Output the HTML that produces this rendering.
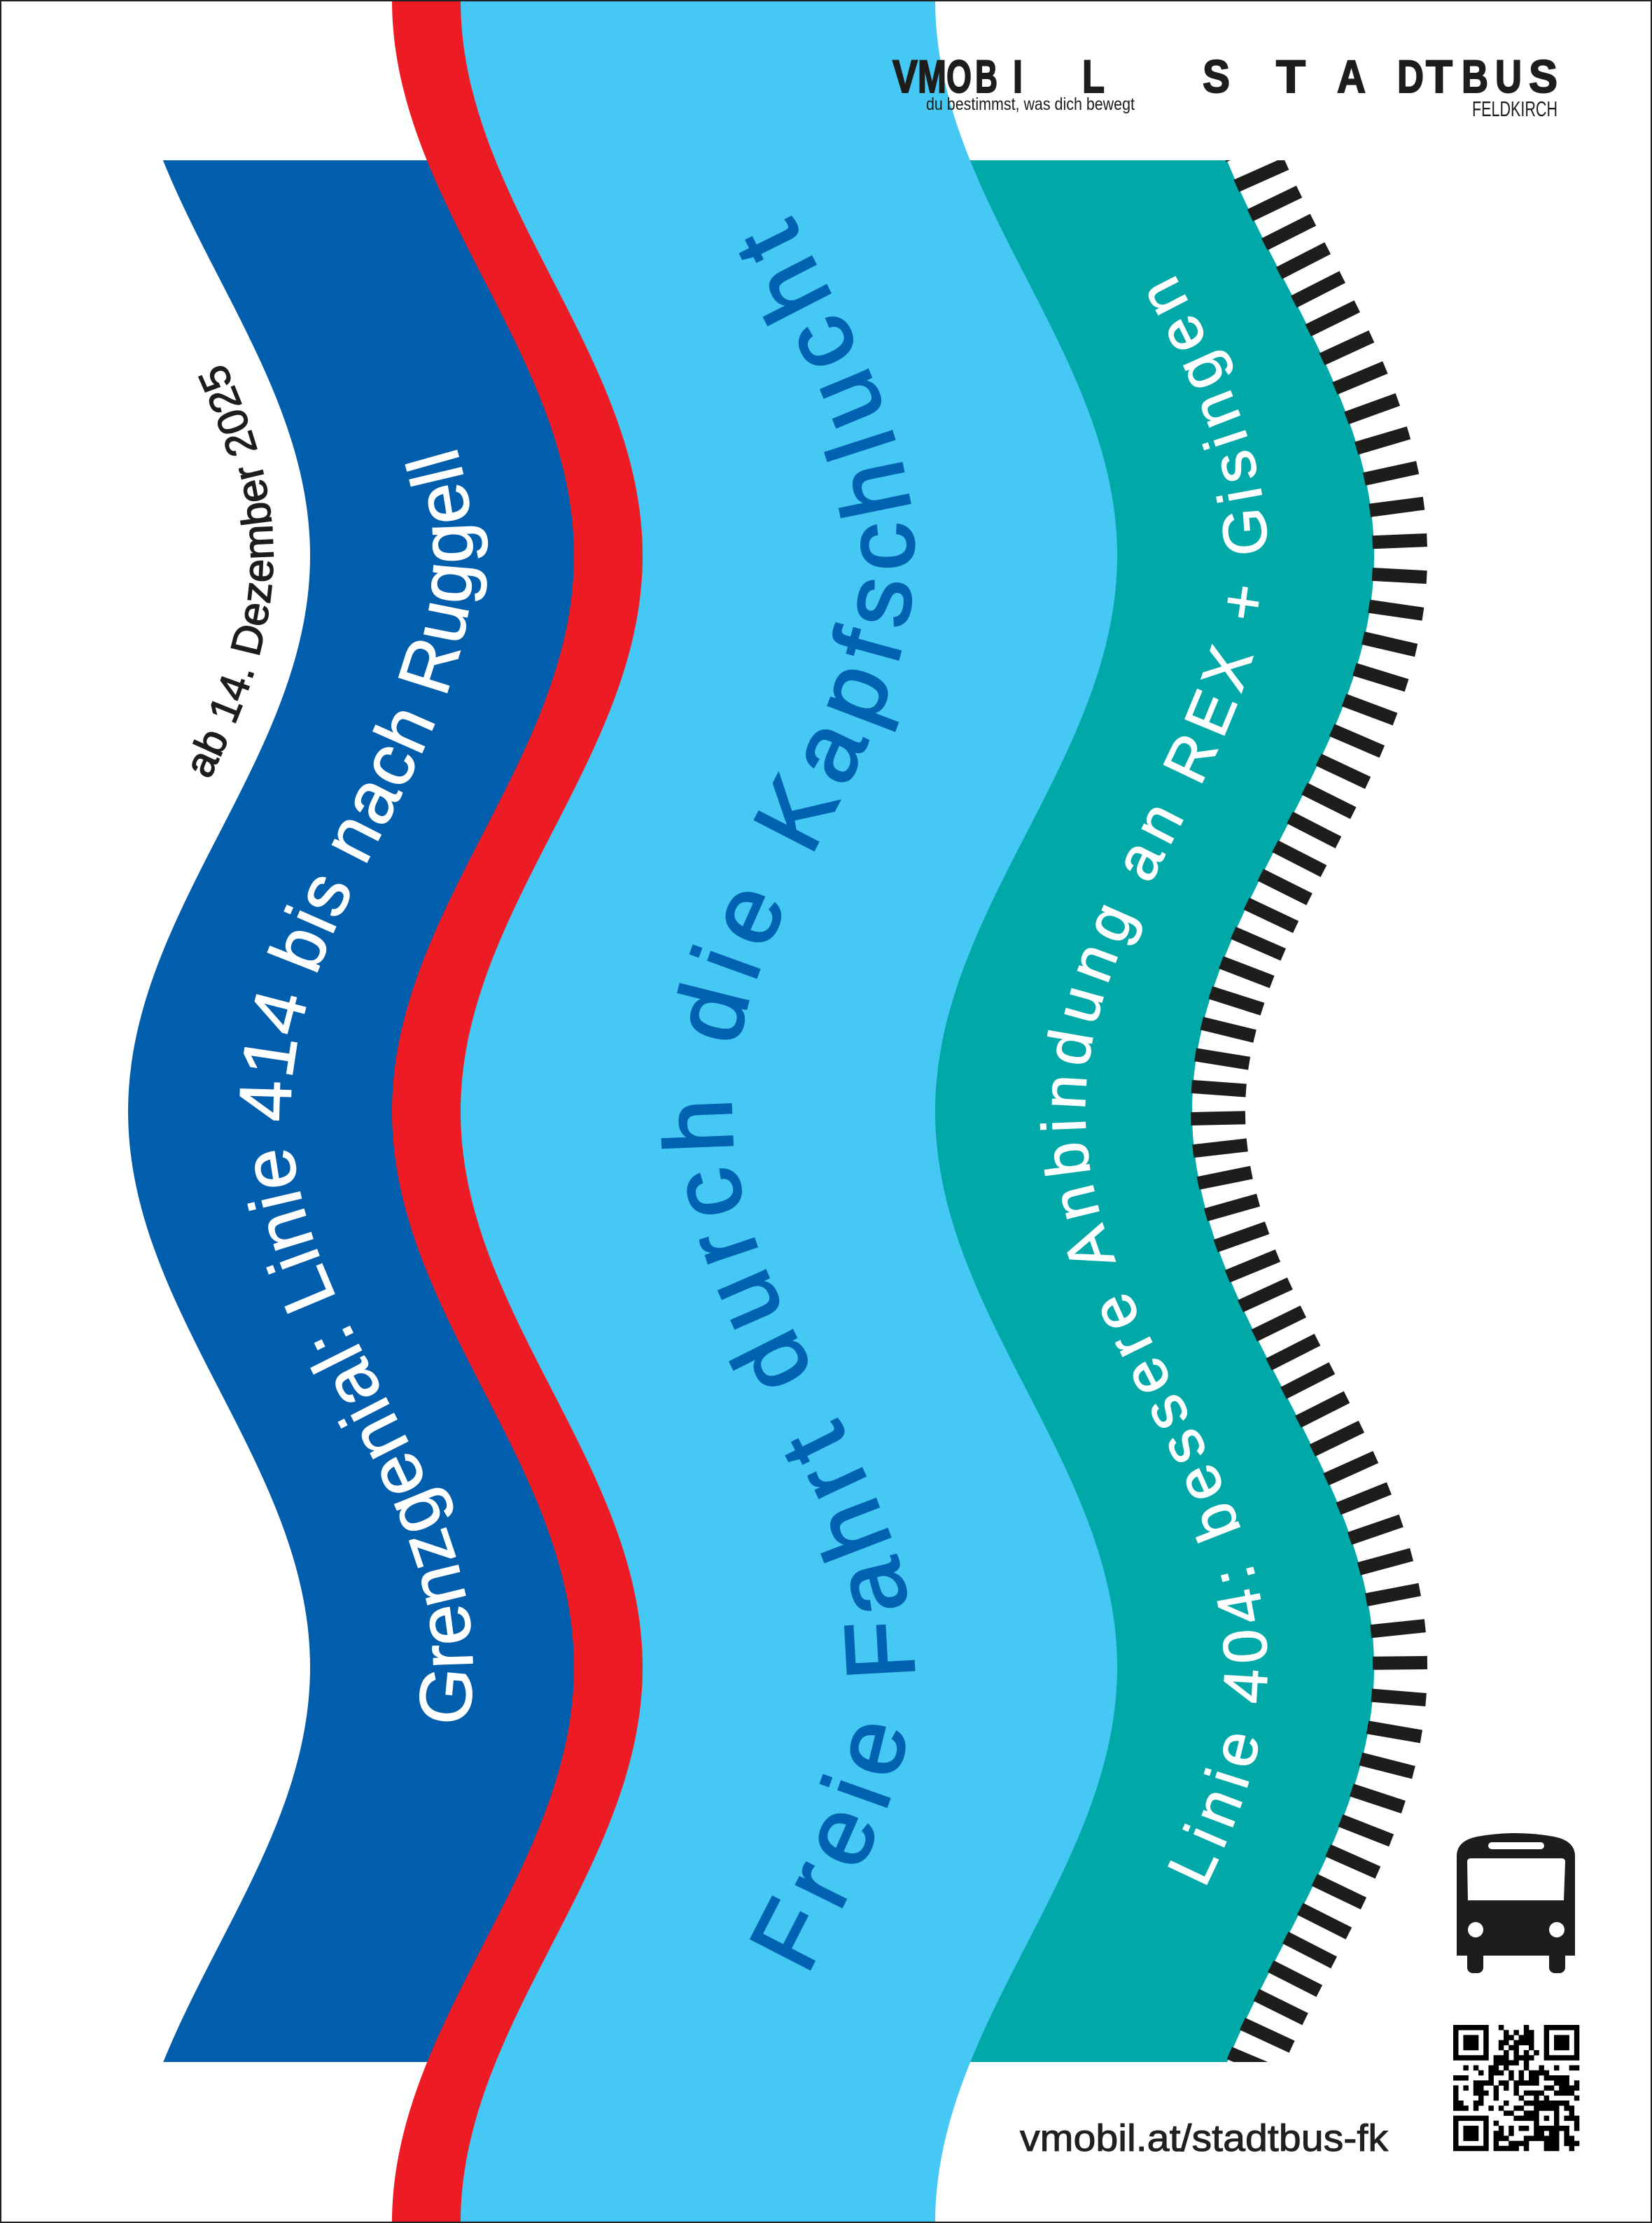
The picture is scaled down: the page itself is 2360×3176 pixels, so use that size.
<!DOCTYPE html>
<html><head><meta charset="utf-8">
<style>
html,body{margin:0;padding:0;background:#fff;}
svg{display:block;}
text{font-family:"Liberation Sans",sans-serif;}
</style></head>
<body>
<svg id="s" xmlns="http://www.w3.org/2000/svg" width="2360" height="3176" viewBox="0 0 2360 3176">
<defs>
<clipPath id="cy"><rect x="0" y="229" width="2360" height="2717"/></clipPath>
<path id="p1" d="M130,3176 C130,2887 390,2671 390,2382 C390,2093 130,1877 130,1588 C130,1299 390,1083 390,794 C390,505 130,289 130,0"/>
<path id="p2" d="M415,3176 C415,2887 675,2671 675,2382 C675,2093 415,1877 415,1588 C415,1299 675,1083 675,794 C675,505 415,289 415,0"/>
<path id="p3" d="M1045,3176 C1045,2887 1305,2671 1305,2382 C1305,2093 1045,1877 1045,1588 C1045,1299 1305,1083 1305,794 C1305,505 1045,289 1045,0"/>
<path id="p4" d="M1550,3176 C1550,2887 1810,2671 1810,2382 C1810,2093 1550,1877 1550,1588 C1550,1299 1810,1083 1810,794 C1810,505 1550,289 1550,0"/>
</defs>
<rect x="0" y="0" width="2360" height="3176" fill="#fff"/>
<g clip-path="url(#cy)"><path transform="translate(183,0)" fill="#005EAD" d="M0,0 C0,289 260,505 260,794 C260,1083 0,1299 0,1588 C0,1877 260,2093 260,2382 C260,2671 0,2887 0,3176 L390,3176 C390,2887 650,2671 650,2382 C650,2093 390,1877 390,1588 C390,1299 650,1083 650,794 C650,505 390,289 390,0 Z"/></g>
<path transform="translate(560,0)" fill="#ED1C24" d="M0,0 C0,289 260,505 260,794 C260,1083 0,1299 0,1588 C0,1877 260,2093 260,2382 C260,2671 0,2887 0,3176 L104,3176 C104,2887 364,2671 364,2382 C364,2093 104,1877 104,1588 C104,1299 364,1083 364,794 C364,505 104,289 104,0 Z"/>
<g clip-path="url(#cy)"><path transform="translate(1330,0)" fill="#00A9A8" d="M0,0 C0,289 260,505 260,794 C260,1083 0,1299 0,1588 C0,1877 260,2093 260,2382 C260,2671 0,2887 0,3176 L373,3176 C373,2887 633,2671 633,2382 C633,2093 373,1877 373,1588 C373,1299 633,1083 633,794 C633,505 373,289 373,0 Z"/></g>
<path transform="translate(658,0)" fill="#45C8F4" d="M0,0 C0,289 260,505 260,794 C260,1083 0,1299 0,1588 C0,1877 260,2093 260,2382 C260,2671 0,2887 0,3176 L678,3176 C678,2887 938,2671 938,2382 C938,2093 678,1877 678,1588 C678,1299 938,1083 938,794 C938,505 678,289 678,0 Z"/>
<g id="ticks" clip-path="url(#cy)" fill="#1d1d1b"></g>

<text font-size="60" fill="#1d1d1b" stroke="#1d1d1b" stroke-width="1.5"><textPath href="#p1" startOffset="2196" textLength="624" lengthAdjust="spacing">ab 14. Dezember 2025</textPath></text>
<text font-size="105" fill="#fff" stroke="#fff" stroke-width="1.5"><textPath href="#p2" startOffset="759" textLength="1933" lengthAdjust="spacing">Grenzgenial: Linie 414 bis nach Ruggell</textPath></text>
<text font-size="138" fill="#0062B0" stroke="#0062B0" stroke-width="3"><textPath href="#p3" startOffset="372" textLength="2681" lengthAdjust="spacing">Freie Fahrt durch die Kapfschlucht</textPath></text>
<text font-size="88" fill="#fff" stroke="#fff" stroke-width="1.5"><textPath href="#p4" startOffset="512" textLength="2450" lengthAdjust="spacing">Linie 404: bessere Anbindung an REX + Gisingen</textPath></text>

<g font-weight="bold" font-size="66" fill="#1d1d1b" stroke="#1d1d1b" stroke-width="2">
<text x="1275" y="132" textLength="36" lengthAdjust="spacingAndGlyphs">V</text>
<text x="1311" y="132" textLength="41" lengthAdjust="spacingAndGlyphs">M</text>
<text x="1352" y="132" textLength="36" lengthAdjust="spacingAndGlyphs">O</text>
<text x="1393" y="132" textLength="32" lengthAdjust="spacingAndGlyphs">B</text>
<text x="1447" y="132" textLength="14" lengthAdjust="spacingAndGlyphs">I</text>
<text x="1546" y="132" textLength="32" lengthAdjust="spacingAndGlyphs">L</text>
<text x="1718" y="132" textLength="39" lengthAdjust="spacingAndGlyphs">S</text>
<text x="1823" y="132" textLength="42" lengthAdjust="spacingAndGlyphs">T</text>
<text x="1910" y="132" textLength="41" lengthAdjust="spacingAndGlyphs">A</text>
<text x="1996" y="132" textLength="38" lengthAdjust="spacingAndGlyphs">D</text>
<text x="2037" y="132" textLength="38" lengthAdjust="spacingAndGlyphs">T</text>
<text x="2088" y="132" textLength="38" lengthAdjust="spacingAndGlyphs">B</text>
<text x="2136" y="132" textLength="38" lengthAdjust="spacingAndGlyphs">U</text>
<text x="2184" y="132" textLength="41" lengthAdjust="spacingAndGlyphs">S</text>
</g>
<text x="1323" y="157" font-size="25" fill="#1d1d1b" textLength="298" lengthAdjust="spacingAndGlyphs">du bestimmst, was dich bewegt</text>
<text x="2103" y="166" font-size="31" fill="#1d1d1b" textLength="122" lengthAdjust="spacingAndGlyphs">FELDKIRCH</text>

<g fill="#1d1d1b">
<path d="M2081,2652 Q2081,2630 2110,2624 Q2165,2614 2220,2624 Q2250,2630 2250,2652 L2250,2794 L2081,2794 Z"/>
<rect x="2096" y="2785" width="23" height="34" rx="8"/>
<rect x="2213" y="2785" width="23" height="34" rx="8"/>
</g>
<rect x="2126" y="2632" width="80" height="10" rx="5" fill="#fff"/>
<path d="M2101,2655 L2231,2655 Q2236,2655 2236,2660 L2234,2715 L2097,2715 L2096,2660 Q2096,2655 2101,2655 Z" fill="#fff"/>
<circle cx="2108" cy="2757" r="11" fill="#fff"/>
<circle cx="2224" cy="2757" r="11" fill="#fff"/>

<g id="qr" fill="#000"></g>

<text x="1457" y="3073" font-size="54" fill="#231f20" stroke="#231f20" stroke-width="1" textLength="526" lengthAdjust="spacingAndGlyphs">vmobil.at/stadtbus-fk</text>

<rect x="1" y="1" width="2358" height="3174" fill="none" stroke="#222" stroke-width="2"/>
</svg>
<script>
(function(){
var NS="http://www.w3.org/2000/svg";
function off(y){return 130*(1-Math.cos(2*Math.PI*y/1588));}
function d(y){return 130*2*Math.PI/1588*Math.sin(2*Math.PI*y/1588);}
var g=document.getElementById("ticks");
var y=222, out="";
while(y<2960){
  var x=1703+off(y), dx=d(y);
  var n=Math.sqrt(1+dx*dx);
  var tx=dx/n, ty=1/n;
  var nx=1/n, ny=-dx/n;
  var h=9.5, L=78, x0=x-nx*2, y0=y-ny*2;
  var pts=[[x0-tx*h,y0-ty*h],[x0+tx*h,y0+ty*h],[x0+tx*h+nx*L,y0+ty*h+ny*L],[x0-tx*h+nx*L,y0-ty*h+ny*L]];
  out+="M"+pts.map(function(p){return p[0].toFixed(1)+","+p[1].toFixed(1);}).join(" L")+" Z ";
  y+=46/n;
}
var p=document.createElementNS(NS,"path");p.setAttribute("d",out);g.appendChild(p);
var q=document.getElementById("qr"),N=25,S=180/N,X0=2076,Y0=2893,seed=12345;
function rnd(){seed=(seed*1103515245+12345)&0x7fffffff;return seed/0x7fffffff;}
function inF(r,c,R,C){return r>=R&&r<R+7&&c>=C&&c<C+7;}
function fv(r,c,R,C){var a=r-R,b=c-C;if(a==0||a==6||b==0||b==6)return 1;if(a>=2&&a<=4&&b>=2&&b<=4)return 1;return 0;}
var s="";
for(var r=0;r<N;r++)for(var c=0;c<N;c++){
  var v;
  if(inF(r,c,0,0))v=fv(r,c,0,0);
  else if(inF(r,c,0,N-7))v=fv(r,c,0,N-7);
  else if(inF(r,c,N-7,0))v=fv(r,c,N-7,0);
  else if((r==7&&c<8)||(c==7&&r<8)||(r==7&&c>=N-8)||(c==N-8&&r<8)||(r==N-8&&c<8)||(c==7&&r>=N-8))v=0;
  else if(r>=16&&r<=20&&c>=16&&c<=20){var a=r-16,b=c-16;v=(a==0||a==4||b==0||b==4||(a==2&&b==2))?1:0;}
  else v=rnd()<0.5?1:0;
  if(v)s+="M"+(X0+c*S).toFixed(2)+","+(Y0+r*S).toFixed(2)+"h"+(S+0.3).toFixed(2)+"v"+(S+0.3).toFixed(2)+"h-"+(S+0.3).toFixed(2)+"Z";
}
var qp=document.createElementNS(NS,"path");qp.setAttribute("d",s);q.appendChild(qp);
})();
</script>
</body></html>
